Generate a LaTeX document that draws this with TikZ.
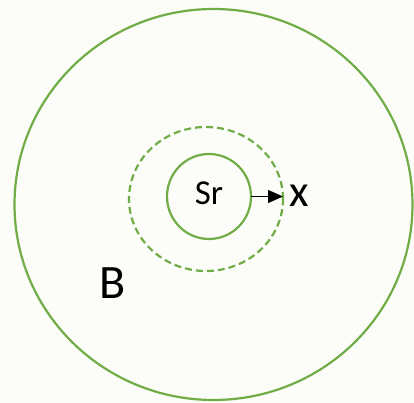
\documentclass[tikz,border=0pt]{standalone}
\usepackage{fontspec}
\setmainfont{Carlito}
\usetikzlibrary{shapes.geometric,arrows.meta}
\definecolor{ringgreen}{HTML}{70AD47}
\definecolor{paper}{RGB}{252,253,248}
\tikzset{
  ring/.style={draw=ringgreen, line width=2.2pt, ellipse, inner sep=0pt, outer sep=0pt},
  lbl/.style={inner sep=0pt, text=black}
}
\begin{document}
\begin{tikzpicture}[x=1pt,y=-1pt]
\fill[paper] (0,0) rectangle (414,403);
\useasboundingbox (0,0) rectangle (414,403);
\node[ring, minimum width=398pt, minimum height=391pt] (outer) at (213.5,204.5) {};
\node[ring, dashed, dash pattern=on 7pt off 4pt, minimum width=154pt, minimum height=144pt] (mid) at (206,199) {};
\node[ring, minimum width=84pt, minimum height=85pt] (inner) at (209,196.5) {};
\node[lbl, font=\fontsize{35}{35}\selectfont] (sr) at (209,193) {Sr};
\node[lbl, font=\fontsize{45}{45}\selectfont, anchor=west] (x) at (289,196) {x};
\node[lbl, font=\fontsize{48}{48}\selectfont] (b) at (113,283) {B};
\draw[line width=1pt, -{Triangle[length=15pt,width=13pt]}] (inner.east) -- (mid.east |- inner.east);
\end{tikzpicture}
\end{document}
